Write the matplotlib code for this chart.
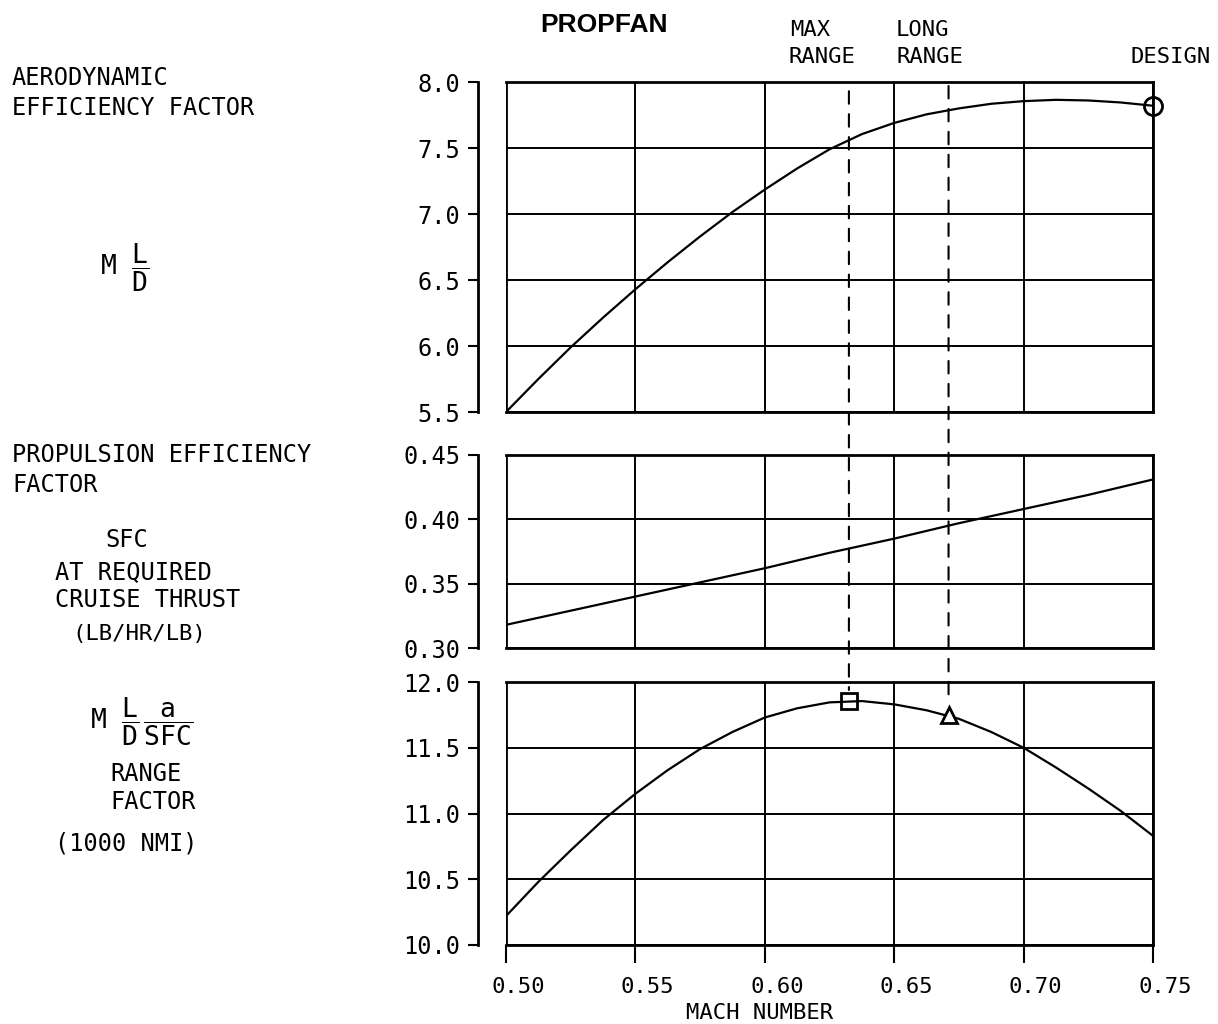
#!/usr/bin/env python3

import matplotlib
matplotlib.use('Agg')
import matplotlib.pyplot as plt
from matplotlib.patches import ConnectionPatch
from matplotlib.transforms import ScaledTranslation

plt.rc('font', family=['DejaVu Sans Mono', 'DejaVu Sans'], size=16)
plt.rc('mathtext', fontset='custom', rm='DejaVu Sans Mono', it='DejaVu Sans Mono')

# values (Mach number every 0.0125)
mach = [0.5000, 0.5125, 0.5250, 0.5375, 0.5500, 0.5625, 0.5750, 0.5875, 0.6000,
        0.6125, 0.6250, 0.6375, 0.6500, 0.6625, 0.6750, 0.6875, 0.7000,
        0.7125, 0.7250, 0.7375, 0.7500]
m_l_over_d = [5.50, 5.75, 5.99, 6.215, 6.43, 6.635, 6.83, 7.015, 7.185,
              7.345, 7.49, 7.605, 7.69, 7.755, 7.80, 7.835, 7.855,
              7.865, 7.86, 7.845, 7.82]
sfc = [0.318, 0.3235, 0.329, 0.3345, 0.340, 0.3455, 0.351, 0.3565, 0.362,
       0.368, 0.374, 0.3795, 0.385, 0.391, 0.397, 0.4025, 0.408,
       0.4135, 0.419, 0.425, 0.431]
range_factor = [10.22, 10.48, 10.72, 10.95, 11.15, 11.33, 11.49, 11.62, 11.73,
                11.80, 11.845, 11.855, 11.83, 11.785, 11.72, 11.62, 11.50,
                11.35, 11.19, 11.02, 10.83]

max_range_mach = 0.6325
max_range_value = 11.855
long_range_mach = 0.671
long_range_value = 11.75
design_mach = 0.75
design_value = 7.82

x_ticks = [0.50, 0.55, 0.60, 0.65, 0.70, 0.75]
top_ticks = [5.5, 6.0, 6.5, 7.0, 7.5, 8.0]
mid_ticks = [0.30, 0.35, 0.40, 0.45]
bot_ticks = [10.0, 10.5, 11.0, 11.5, 12.0]

W, H = 1218, 1024
fig = plt.figure(figsize=(W / 100, H / 100), dpi=100)


def px(x, y):
    return x / W, 1 - y / H


def panel(top, bottom, ticks, fmt):
    l, t = px(506, top)
    _, b = px(506, bottom)
    r, _ = px(1153, top)
    ax = fig.add_axes([l, b, r - l, t - b])
    ax.set_xlim(0.50, 0.75)
    ax.set_ylim(ticks[0], ticks[-1])
    ax.set_xticks(x_ticks)
    ax.set_yticks(ticks)
    ax.set_yticklabels([fmt % v for v in ticks])
    ax.grid(True, color='black', linewidth=1.4)
    ax.set_axisbelow(True)
    for s in ax.spines.values():
        s.set_linewidth(2)
    ax.spines['left'].set_position(('outward', 20))
    ax.axvline(0.50, color='black', linewidth=2)
    ax.tick_params(axis='y', direction='out', length=7, width=1.5, pad=6, labelsize=17)
    ax.tick_params(axis='x', length=0, labelbottom=False)
    return ax


ax1 = panel(82, 412, top_ticks, '%.1f')
ax2 = panel(455, 648, mid_ticks, '%.2f')
ax3 = panel(682, 945, bot_ticks, '%.1f')

ax1.plot(mach, m_l_over_d, color='black', linewidth=1.6)
ax2.plot(mach, sfc, color='black', linewidth=1.6)
ax3.plot(mach, range_factor, color='black', linewidth=1.6)

ax1.plot(design_mach, design_value, 'o', mfc='none', mec='black', ms=13, mew=2, clip_on=False, zorder=5)
ax3.plot(max_range_mach, max_range_value, 's', mfc='none', mec='black', ms=12, mew=2, clip_on=False, zorder=5)
ax3.plot(long_range_mach, long_range_value, '^', mfc='white', mec='black', ms=11, mew=2, clip_on=False, zorder=5)

# bottom panel carries the Mach number axis
ax3.tick_params(axis='x', direction='out', length=13, width=1.5, pad=10, labelbottom=True, labelsize=16)
ax3.set_xticklabels(['%.2f' % v for v in x_ticks])
shift = ScaledTranslation(12 / 100, 0, fig.dpi_scale_trans)
for lab in ax3.get_xticklabels():
    lab.set_transform(lab.get_transform() + shift)

# dashed lines running down to the operating points
for xm, ym, top_y in [(max_range_mach, max_range_value, 7.93), (long_range_mach, long_range_value, 7.97)]:
    con = ConnectionPatch(xyA=(xm, top_y), coordsA=ax1.transData,
                          xyB=(xm, ym), coordsB=ax3.transData,
                          linestyle=(0, (6, 5)), linewidth=1.5, color='black', shrinkB=8)
    fig.add_artist(con)


def label(x, y, s, ha='left', **kw):
    fx, fy = px(x, y)
    fig.text(fx, fy, s, ha=ha, va='center', **kw)


label(540, 25, 'PROPFAN', family='Liberation Sans', fontsize=19, fontweight='bold')
label(790, 30, 'MAX')
label(788, 57, 'RANGE')
label(896, 30, 'LONG')
label(896, 57, 'RANGE')
label(1130, 57, 'DESIGN')

label(12, 78, 'AERODYNAMIC', fontsize=17)
label(12, 108, 'EFFICIENCY FACTOR', fontsize=17)
label(100, 268, r'M $\dfrac{\mathrm{L}}{\mathrm{D}}$', fontsize=19)

label(12, 455, 'PROPULSION EFFICIENCY', fontsize=17)
label(12, 485, 'FACTOR', fontsize=17)
label(127, 540, 'SFC', ha='center', fontsize=17)
label(55, 572, 'AT REQUIRED', fontsize=17)
label(55, 600, 'CRUISE THRUST', fontsize=17)
label(72, 634, '(LB/HR/LB)', fontsize=16)

label(90, 722, r'M $\dfrac{\mathrm{L}}{\mathrm{D}}\,\dfrac{\mathrm{a}}{\mathrm{SFC}}$', fontsize=19)
label(110, 774, 'RANGE', fontsize=17)
label(110, 802, 'FACTOR', fontsize=17)
label(55, 843, '(1000 NMI)', fontsize=17)

label(760, 1013, 'MACH NUMBER', ha='center', fontsize=16)

fig.savefig('out.png', dpi=100)
